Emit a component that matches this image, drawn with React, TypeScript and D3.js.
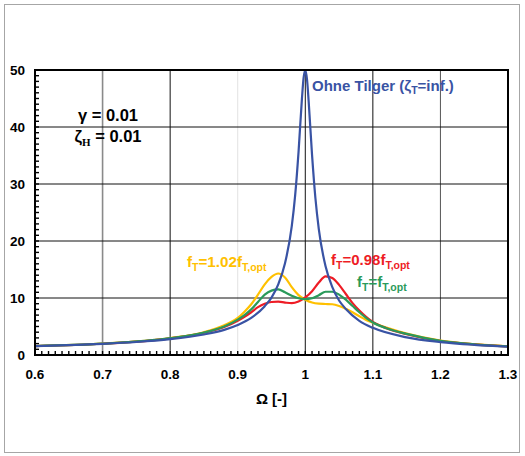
import * as d3 from 'd3';

// frequency ratio Omega and amplification V
const omegaBlue = [0.6, 0.65, 0.7, 0.75, 0.8, 0.85, 0.88, 0.9, 0.92, 0.94, 0.95, 0.96, 0.97, 0.98, 0.985, 0.99, 0.995, 0.9975, 1.0, 1.0025, 1.005, 1.01, 1.015, 1.02, 1.03, 1.04, 1.05, 1.06, 1.08, 1.1, 1.15, 1.2, 1.25, 1.3];
const vBlue = [1.56, 1.73, 1.96, 2.28, 2.78, 3.6, 4.4, 5.26, 6.5, 8.57, 10.07, 12.4, 16.1, 22.6, 28, 35.6, 44.9, 48.6, 50, 48.4, 44.5, 35.1, 27.5, 22.1, 15.55, 11.9, 9.56, 8.07, 6.0, 4.76, 3.1, 2.27, 1.78, 1.45];

const omegaTmd = [0.6, 0.7, 0.8, 0.85, 0.88, 0.9, 0.91, 0.92, 0.93, 0.94, 0.95, 0.96, 0.97, 0.98, 0.99, 1.0, 1.01, 1.02, 1.03, 1.04, 1.05, 1.06, 1.07, 1.08, 1.09, 1.1, 1.12, 1.15, 1.2, 1.25, 1.3];
const vYellow = [1.58, 2.0, 2.98, 4.0, 5.2, 6.5, 7.6, 8.9, 10.6, 12.4, 13.7, 14.3, 13.6, 11.9, 10.5, 9.7, 9.2, 9.0, 8.95, 8.9, 8.6, 8.1, 7.5, 6.8, 6.15, 5.65, 4.8, 3.75, 2.52, 1.9, 1.52];
const vGreen = [1.57, 1.98, 2.95, 3.95, 5.0, 6.2, 7.0, 8.0, 9.3, 10.6, 11.3, 11.5, 11.0, 10.4, 9.95, 9.8, 9.95, 10.5, 11.1, 11.1, 10.6, 9.7, 8.6, 7.5, 6.5, 5.7, 4.7, 3.7, 2.48, 1.88, 1.5];
const vRed = [1.57, 1.97, 2.92, 3.9, 4.9, 6.0, 6.7, 7.5, 8.4, 9.0, 9.3, 9.35, 9.2, 9.1, 9.4, 10.1, 11.2, 12.7, 13.8, 13.5, 12.3, 10.7, 9.1, 7.8, 6.7, 5.8, 4.7, 3.65, 2.45, 1.88, 1.5];

const xTicks = [0.6, 0.7, 0.8, 0.9, 1.0, 1.1, 1.2, 1.3];
const yTicks = [0, 10, 20, 30, 40, 50];

const W = 525;
const H = 456;
const MARGIN = { top: 70, right: 17, bottom: 101, left: 35 };
const FONT = 'Arial, "Liberation Sans", sans-serif';

const BLUE = '#3953a4';
const RED = '#ee1c25';
const GREEN = '#2a9a5a';
const YELLOW = '#ffc000';

// the vertical grid lines look uneven in the original (rasterised)
const vGridColor: Record<string, string> = {
  '0.7': '#8a8a8a',
  '0.8': '#111',
  '0.9': '#e2e2e2',
  '1': '#111',
  '1.1': '#111',
  '1.2': '#555',
};

type Pt = { x: number; y: number };

export default function App() {
  const boundsWidth = W - MARGIN.left - MARGIN.right;
  const boundsHeight = H - MARGIN.top - MARGIN.bottom;

  const xScale = d3.scaleLinear().domain([0.6, 1.3]).range([0, boundsWidth]);
  const yScale = d3.scaleLinear().domain([0, 50]).range([boundsHeight, 0]);

  const line = d3
    .line<Pt>()
    .x((d) => xScale(d.x))
    .y((d) => yScale(d.y))
    .curve(d3.curveMonotoneX);

  const zip = (xs: number[], ys: number[]) => xs.map((x, i) => ({ x, y: ys[i] }));

  const series = [
    { color: YELLOW, d: line(zip(omegaTmd, vYellow)) },
    { color: RED, d: line(zip(omegaTmd, vRed)) },
    { color: GREEN, d: line(zip(omegaTmd, vGreen)) },
    { color: BLUE, d: line(zip(omegaBlue, vBlue)) },
  ];

  const minorX = d3.range(61, 130).map((v) => v / 100);
  const minorY = d3.range(1, 50);

  return (
    <svg
      width={W}
      height={H}
      style={{ position: 'absolute', left: 0, top: 0 }}
      fontFamily={FONT}
      fontWeight="bold"
    >
      <rect x={0} y={0} width={W} height={H} fill="white" />
      <rect x={4.5} y={4.5} width={515} height={448} fill="none" stroke="#a6a6a6" strokeWidth={1} />

      <defs>
        <clipPath id="plotArea">
          <rect x={0} y={-2} width={boundsWidth} height={boundsHeight + 2} />
        </clipPath>
      </defs>

      <g transform={`translate(${MARGIN.left},${MARGIN.top})`}>
        {/* grid */}
        {xTicks.slice(1, -1).map((t) => (
          <line
            key={'gx' + t}
            x1={xScale(t)}
            x2={xScale(t)}
            y1={0}
            y2={boundsHeight}
            stroke={vGridColor[String(t)]}
            strokeWidth={t === 0.7 ? 1.6 : 1}
          />
        ))}
        {yTicks.slice(1, -1).map((t) => (
          <line key={'gy' + t} x1={0} x2={boundsWidth} y1={yScale(t)} y2={yScale(t)} stroke="#111" strokeWidth={1} />
        ))}

        {/* minor ticks inside the frame */}
        {minorX.map((t) => (
          <line key={'mx' + t} x1={xScale(t)} x2={xScale(t)} y1={boundsHeight} y2={boundsHeight - 4} stroke="#000" strokeWidth={1.4} />
        ))}
        {minorY.map((t) => (
          <line key={'my' + t} x1={0} x2={4} y1={yScale(t)} y2={yScale(t)} stroke="#000" strokeWidth={1.4} />
        ))}

        {/* curves */}
        <g clipPath="url(#plotArea)">
          {series.map((s) => (
            <path key={s.color} d={s.d || ''} fill="none" stroke={s.color} strokeWidth={2.2} strokeLinejoin="round" />
          ))}
        </g>

        {/* frame */}
        <rect x={0} y={0} width={boundsWidth} height={boundsHeight} fill="none" stroke="#000" strokeWidth={2} />

        {/* tick labels */}
        {yTicks.map((t) => (
          <text key={'ly' + t} x={-10} y={yScale(t) + 5} textAnchor="end" fontSize={13.5}>
            {t}
          </text>
        ))}
        {xTicks.map((t) => (
          <text key={'lx' + t} x={xScale(t)} y={boundsHeight + 24} textAnchor="middle" fontSize={13.5}>
            {String(t)}
          </text>
        ))}
        <text x={boundsWidth / 2} y={boundsHeight + 49} textAnchor="middle" fontSize={15}>
          Ω [-]
        </text>

        {/* annotations */}
        <text x={73} y={51} textAnchor="middle" fontSize={16.5}>
          γ = 0.01
        </text>
        <text x={73} y={72} textAnchor="middle" fontSize={16.5}>
          ζ<tspan fontSize={11} dy={4} fontFamily="'Liberation Serif', serif">H</tspan>
          <tspan dy={-4}> = 0.01</tspan>
        </text>

        <text x={277} y={21} fontSize={15} fill={BLUE}>
          Ohne Tilger (ζ<tspan fontSize={10.5} dy={3}>T</tspan>
          <tspan dy={-3}>=inf.)</tspan>
        </text>

        <text x={152} y={197} fontSize={15.2} fill={YELLOW}>
          f<tspan fontSize={10.5} dy={4}>T</tspan>
          <tspan dy={-4}>=1.02f</tspan>
          <tspan fontSize={10.5} dy={4}>T,opt</tspan>
        </text>
        <text x={296} y={195} fontSize={15} fill={RED}>
          f<tspan fontSize={10.5} dy={4}>T</tspan>
          <tspan dy={-4}>=0.98f</tspan>
          <tspan fontSize={10.5} dy={4}>T,opt</tspan>
        </text>
        <text x={322} y={217} fontSize={15} fill={GREEN}>
          f<tspan fontSize={10.5} dy={4}>T</tspan>
          <tspan dy={-4}>=f</tspan>
          <tspan fontSize={10.5} dy={4}>T,opt</tspan>
        </text>
      </g>
    </svg>
  );
}
